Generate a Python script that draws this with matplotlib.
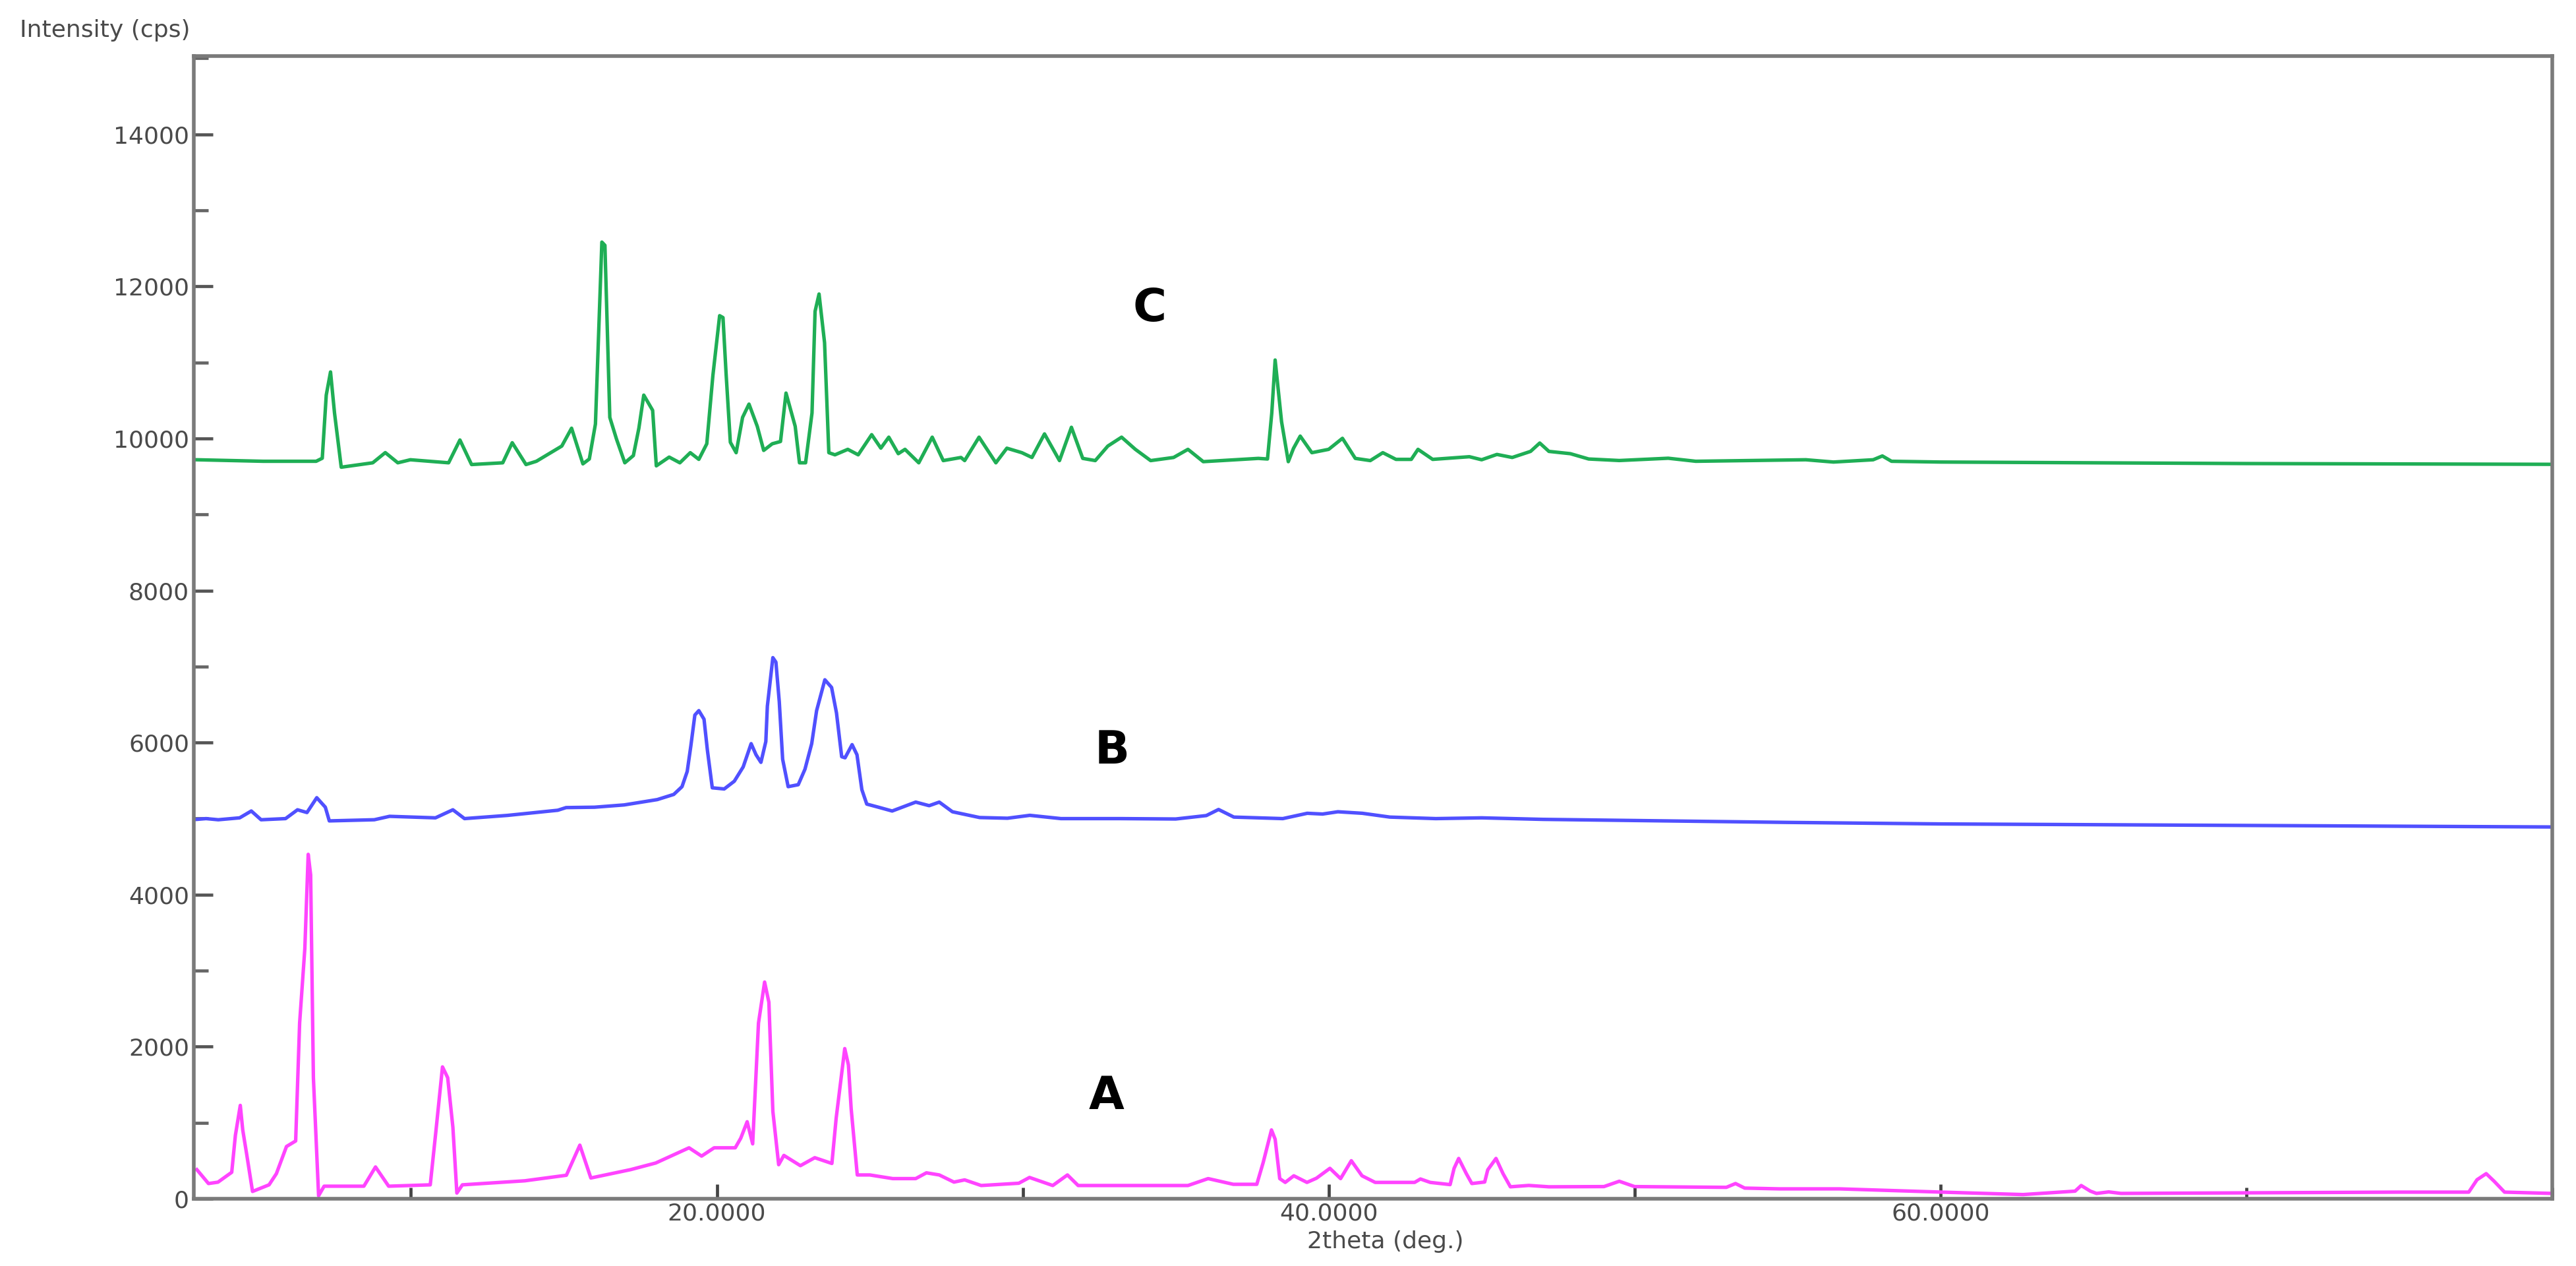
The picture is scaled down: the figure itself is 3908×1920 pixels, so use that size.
import matplotlib
matplotlib.use("Agg")
import matplotlib.pyplot as plt
from matplotlib.ticker import MultipleLocator, FixedLocator

# ---------------- data ----------------
theta_A = [3.0, 3.38, 3.69, 4.14, 4.26, 4.42, 4.50, 4.63, 4.82, 5.36, 5.60, 5.93, 6.23, 6.36, 6.53,
           6.64, 6.72, 6.81, 6.98, 7.16, 8.46, 8.84, 9.27, 10.63, 10.81, 11.03, 11.2, 11.37, 11.5,
           11.68, 13.72, 15.08, 15.52, 15.88, 17.18, 18.0, 19.09, 19.5, 19.91, 20.6, 20.78, 20.99,
           21.17, 21.36, 21.56, 21.70, 21.83, 22.02, 22.19, 22.73, 23.2, 23.76, 23.9, 24.18, 24.3,
           24.39, 24.59, 25.0, 25.75, 26.5, 26.85, 27.27, 27.75, 28.1, 28.64, 29.87, 30.22, 30.98,
           31.46, 31.81, 34.83, 35.4, 36.06, 36.88, 37.65, 37.86, 38.13, 38.25, 38.4, 38.58, 38.86,
           39.29, 39.6, 40.04, 40.39, 40.74, 41.09, 41.52, 42.81, 43.0, 43.32, 43.97, 44.1, 44.25,
           44.5, 44.68, 45.1, 45.2, 45.47, 45.7, 45.94, 46.54, 47.2, 49.0, 49.5, 50.0, 53.0, 53.3,
           53.6, 54.74, 56.7, 60.05, 62.7, 64.4, 64.6, 64.9, 65.1, 65.5, 65.9, 75.0, 77.27, 77.54,
           77.84, 78.1, 78.44, 80.0]
int_A = [383, 200, 218, 348, 835, 1228, 905, 583, 96, 183, 330, 687, 760, 2313, 3290,
         4530, 4259, 1590, 40, 165, 165, 418, 165, 183, 870, 1734, 1592, 940, 75,
         183, 236, 309, 705, 273, 383, 470, 670, 561, 670, 670, 796, 1013,
         722, 2310, 2850, 2584, 1150, 448, 570, 435, 540, 464, 1061, 1975, 1760,
         1183, 313, 313, 265, 265, 341, 313, 219, 248, 174, 204, 280, 174,
         313, 174, 174, 174, 265, 190, 190, 478, 905, 783, 265, 215, 302,
         215, 270, 400, 265, 500, 302, 215, 215, 260, 215, 186, 400, 530,
         330, 200, 220, 380, 530, 330, 157, 175, 157, 160, 230, 160, 150, 200,
         140, 130, 130, 87, 55, 100, 174, 100, 70, 90, 70, 87, 87, 250,
         330, 230, 87, 70]

theta_B = [3.0, 3.3, 3.7, 4.4, 4.78, 5.1, 5.9, 6.29, 6.6, 6.92, 7.2, 7.33, 8.8, 9.3, 10.8, 11.37,
           11.75, 13.15, 14.8, 15.07, 16.0, 16.97, 18.05, 18.59, 18.86, 19.03, 19.15, 19.28, 19.41,
           19.58, 19.69, 19.85, 20.24, 20.57, 20.86, 21.12, 21.28, 21.44, 21.6, 21.65, 21.83, 21.93,
           22.04, 22.15, 22.33, 22.66, 22.88, 23.1, 23.26, 23.53, 23.75, 23.91, 24.08, 24.19, 24.42,
           24.58, 24.74, 24.9, 25.28, 25.73, 26.5, 26.94, 27.27, 27.7, 28.59, 29.5, 30.23, 31.25,
           33.19, 35.0, 36.0, 36.4, 36.9, 38.5, 39.3, 39.8, 40.3, 41.1, 42.0, 43.5, 45.0, 47.0,
           50.0, 55.0, 60.0, 65.0, 70.0, 75.0, 80.0]
int_B = [4990, 5000, 4985, 5010, 5100, 4985, 5000, 5116, 5080, 5275, 5150, 4970, 4985, 5030, 5010, 5116,
         5000, 5042, 5110, 5145, 5150, 5180, 5250, 5318, 5420, 5620, 5959, 6362, 6420,
         6307, 5900, 5405, 5390, 5492, 5680, 5986, 5840, 5740, 6014, 6478, 7117, 7058,
         6536, 5780, 5420, 5446, 5650, 5986, 6420, 6826, 6725, 6390, 5814, 5800, 5973,
         5840, 5380, 5191, 5150, 5100, 5217, 5170, 5217, 5090, 5014, 5005, 5043, 5000,
         5000, 4995, 5040, 5120, 5020, 5000, 5070, 5060, 5090, 5070, 5020, 5000, 5010, 4990,
         4975, 4950, 4930, 4920, 4910, 4900, 4890]

theta_C = [3.0, 5.17, 6.9, 7.1, 7.23, 7.37, 7.5, 7.72, 8.75, 9.16, 9.57, 9.98, 11.23, 11.6, 11.98,
           13.0, 13.31, 13.76, 14.1, 14.93, 15.25, 15.62, 15.83, 16.03, 16.24, 16.34, 16.5, 16.72,
           16.99, 17.27, 17.45, 17.61, 17.9, 18.02, 18.44, 18.79, 19.13, 19.41, 19.67, 19.87, 20.09,
           20.2, 20.3, 20.44, 20.63, 20.84, 21.05, 21.32, 21.53, 21.81, 22.08, 22.26, 22.56, 22.7,
           22.9, 23.11, 23.21, 23.34, 23.52, 23.66, 23.86, 24.28, 24.62, 25.06, 25.36, 25.62, 25.93,
           26.15, 26.6, 27.04, 27.4, 27.98, 28.1, 28.57, 29.12, 29.48, 29.97, 30.3, 30.71, 31.2,
           31.59, 31.96, 32.37, 32.78, 33.23, 33.68, 34.18, 34.93, 35.4, 35.9, 37.7, 38.0, 38.14,
           38.25, 38.46, 38.68, 38.85, 39.07, 39.45, 40.0, 40.45, 40.87, 41.36, 41.77, 42.2, 42.7,
           42.92, 43.4, 44.6, 45.0, 45.5, 46.0, 46.6, 46.9, 47.2, 47.9, 48.5, 49.5, 51.1, 52.0,
           55.6, 56.5, 57.8, 58.1, 58.4, 60.0, 65.0, 70.0, 75.0, 80.0]
int_C = [9720, 9700, 9700, 9740, 10570, 10875, 10336, 9622, 9680, 9814, 9680, 9720, 9680, 9980, 9657,
         9680, 9944, 9657, 9700, 9900, 10135, 9666, 9730, 10190, 12583, 12540, 10277, 9990,
         9680, 9775, 10135, 10570, 10370, 9640, 9755, 9680, 9813, 9725, 9930, 10830, 11615,
         11590, 10860, 9950, 9813, 10277, 10452, 10160, 9843, 9930, 9960, 10597, 10160, 9680,
         9680, 10335, 11672, 11900, 11260, 9813, 9785, 9857, 9785, 10050, 9873, 10017, 9800,
         9857, 9680, 10017, 9709, 9750, 9709, 10017, 9680, 9872, 9813, 9750, 10060, 9709,
         10147, 9738, 9709, 9900, 10017, 9857, 9709, 9750, 9857, 9695, 9738, 9730, 10335,
         11032, 10220, 9695, 9870, 10031, 9813, 9857, 10002, 9738, 9709, 9813, 9725, 9725,
         9857, 9725, 9760, 9720, 9790, 9750, 9830, 9940, 9830, 9800, 9730, 9710, 9740, 9700,
         9720, 9690, 9720, 9770, 9700, 9690, 9680, 9670, 9665, 9660]

series_names = ["A", "B", "C"]
label_theta = [32.74, 32.93, 34.14]
label_int = [1349, 5890, 11710]

y_ticks = [0, 2000, 4000, 6000, 8000, 10000, 12000, 14000]
x_ticks = [20, 40, 60]
x_tick_labels = ["20.0000", "40.0000", "60.0000"]

# ---------------- figure ----------------
W, H = 3908, 1920
fig = plt.figure(figsize=(W / 100, H / 100), dpi=100)
ax = fig.add_axes([294 / W, (H - 1818) / H, (3872 - 294) / W, (1818 - 85) / H])

colors = {"A": "#ff44ff", "B": "#5050ff", "C": "#1fae55"}
ax.plot(theta_A, int_A, color=colors["A"], lw=3.8)
ax.plot(theta_B, int_B, color=colors["B"], lw=3.8)
ax.plot(theta_C, int_C, color=colors["C"], lw=3.8)

for name, tx, ty in zip(series_names, label_theta, label_int):
    ax.text(tx, ty, name, ha="center", va="center", fontsize=50,
            fontweight="bold", family="DejaVu Sans", color="black")

ax.set_xlim(2.9, 80.0)
ax.set_ylim(0, 15030)

txt_color = "#4a4a4a"
ax.yaxis.set_major_locator(FixedLocator(y_ticks))
ax.yaxis.set_minor_locator(MultipleLocator(1000))
ax.set_yticklabels([str(v) for v in y_ticks])
ax.xaxis.set_major_locator(FixedLocator(x_ticks))
ax.xaxis.set_minor_locator(MultipleLocator(10))
ax.set_xticklabels(x_tick_labels)

ax.tick_params(axis="y", which="major", direction="in", length=21, width=3.4,
               color="#555555", labelsize=26, labelcolor=txt_color, pad=5)
ax.tick_params(axis="y", which="minor", direction="in", length=16, width=3.4,
               color="#666666")
ax.tick_params(axis="x", which="major", direction="in", length=16, width=3.4,
               color="#444444", labelsize=26, labelcolor=txt_color, pad=4)
ax.tick_params(axis="x", which="minor", direction="in", length=12, width=3.4,
               color="#444444")

for s in ax.spines.values():
    s.set_color("#7a7a7a")
    s.set_linewidth(4.0)

fig.text(30 / W, 1 - 46 / H, "Intensity (cps)", ha="left", va="center",
         fontsize=26, color=txt_color)
fig.text(2102 / W, 1 - 1883 / H, "2theta (deg.)", ha="center", va="center",
         fontsize=26, color=txt_color)

fig.savefig("out.png", dpi=100, facecolor="white")
